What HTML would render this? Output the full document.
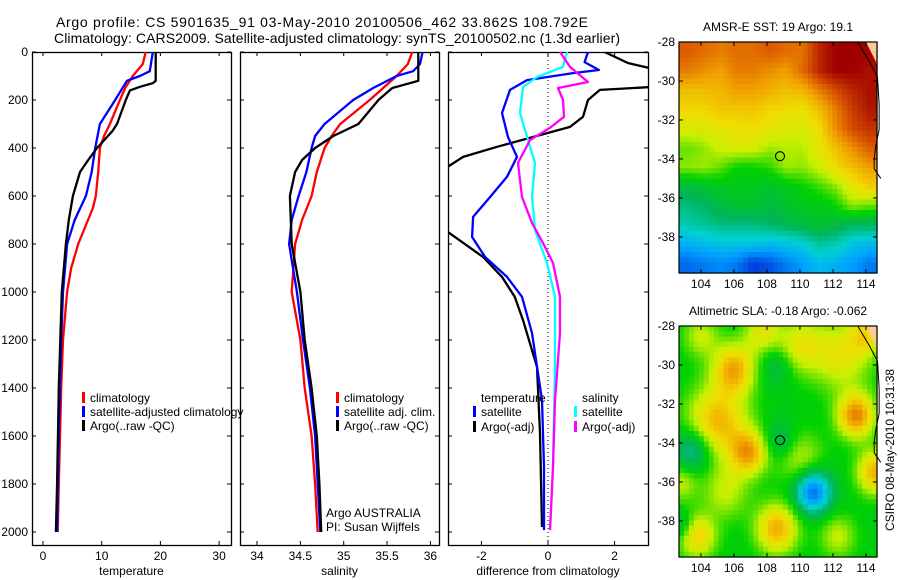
<!DOCTYPE html>
<html><head><meta charset="utf-8"><style>
html,body{margin:0;padding:0;background:#fff;}
svg{display:block;font-family:"Liberation Sans",sans-serif;}
</style></head><body>
<svg id="fig" width="900" height="580" viewBox="0 0 900 580" xmlns="http://www.w3.org/2000/svg">
<text x="56" y="27" font-size="14" textLength="532">Argo profile: CS 5901635_91 03-May-2010 20100506_462 33.862S 108.792E</text>
<text x="54" y="43" font-size="14" textLength="566">Climatology: CARS2009. Satellite-adjusted climatology: synTS_20100502.nc (1.3d earlier)</text>
</svg>
<script>
// ---------- data ----------
const tDepth = [0,50,100,150,200,300,350,400,500,600,650,800,900,1000,1200,1400,1600,1800,2000];
const tClim  = [17.5,17.0,15.3,14.0,13.1,11.4,10.4,9.7,9.4,9.0,8.5,6.0,4.8,4.1,3.4,3.1,2.9,2.7,2.5];
const tSatDepth = [0,80,100,120,200,300,400,500,600,700,800,1000,1200,1600,2000];
const tSat   = [18.7,18.2,16.5,14.3,12.3,9.7,8.9,8.3,7.3,5.4,4.1,3.4,3.1,2.7,2.4];
const tArgoDepth = [0,120,130,145,160,200,300,330,400,450,500,600,700,800,1000,1400,1800,2000];
const tArgo  = [19.2,19.2,18.7,16.5,14.8,14.1,12.6,11.8,9.2,7.7,6.3,5.1,4.4,3.9,3.2,2.7,2.4,2.2];

const sClimDepth = [0,50,100,200,300,350,400,500,600,700,800,1000,1200,1400,1600,1800,2000];
const sClim  = [35.79,35.74,35.61,35.30,34.96,34.86,34.78,34.69,34.63,34.52,34.44,34.40,34.50,34.55,34.63,34.67,34.70];
const sSatDepth = [0,50,80,100,150,200,300,350,400,500,600,700,800,1000,1200,1400,1600,1800,2000];
const sSat   = [35.91,35.88,35.80,35.61,35.34,35.11,34.78,34.67,34.63,34.57,34.48,34.40,34.37,34.46,34.53,34.61,34.67,34.70,34.73];
const sArgoDepth = [0,120,150,200,300,350,400,450,500,600,800,1000,1200,1400,1600,1800,2000];
const sArgo  = [35.86,35.86,35.56,35.40,35.17,34.88,34.67,34.52,34.44,34.38,34.40,34.50,34.55,34.63,34.69,34.72,34.74];

const dTArgoDepth = [0,46,75,146,158,200,270,312,354,395,437,504,741,854,937,1020,1117,1312,1587,1979];
const dTArgo = [1.7,2.4,3.3,3.1,1.56,1.2,1.05,0.66,-0.45,-1.53,-2.55,-3.3,-3.1,-1.95,-1.38,-1.0,-0.75,-0.33,-0.24,-0.18];
const dTSatDepth = [0,42,75,88,117,158,254,354,437,520,604,687,771,854,937,1020,1171,1450,1729,1992];
const dTSat  = [1.2,1.1,1.53,0.75,-0.63,-1.14,-1.38,-1.2,-0.93,-1.23,-1.74,-2.25,-2.28,-1.89,-1.23,-0.78,-0.48,-0.18,-0.12,-0.12];
const dSSatDepth = [0,62,104,146,254,367,462,604,741,879,1020,1312,1729,1992];
const dSSat  = [0.57,0.45,-0.33,-0.75,-0.84,-0.6,-0.39,-0.48,-0.39,-0.03,0.21,0.21,0.15,0.06];
const dSArgoDepth = [0,62,125,150,200,270,316,367,462,604,712,796,879,1020,1171,1450,1729,1992];
const dSArgo = [0.36,0.66,1.2,0.3,0.45,0.48,0.06,-0.54,-0.9,-0.78,-0.48,-0.15,0.15,0.36,0.36,0.21,0.15,0.06];

const depthTicks = [0,200,400,600,800,1000,1200,1400,1600,1800,2000];
const tempTicks = [0,10,20,30];
const salTicks = [34,34.5,35,35.5,36];
const salTickLabels = ["34","34.5","35","35.5","36"];
const diffTicks = [-2,0,2];
const lonTicks = [104,106,108,110,112,114];
const latTicks = [-28,-30,-32,-34,-36,-38];

// SST coarse grid (colour index 0..1), rows lat -28 downward, cols lon 102.67 eastward
const sstGrid = [
[.88,.86,.84,.86,.86,.88,.86,.85,.95,1,1,1],
[.84,.82,.8,.84,.84,.82,.8,.86,.95,1,1,.98],
[.76,.76,.77,.8,.8,.78,.76,.77,.84,.9,.95,.98],
[.73,.73,.75,.75,.75,.73,.72,.71,.76,.84,.92,.97],
[.68,.68,.7,.71,.72,.7,.68,.67,.72,.82,.9,.93],
[.6,.62,.66,.68,.67,.63,.64,.64,.7,.76,.82,.88],
[.62,.63,.6,.55,.55,.57,.63,.62,.66,.72,.76,.8],
[.48,.5,.52,.52,.52,.5,.52,.55,.58,.62,.7,.74],
[.42,.44,.48,.5,.5,.48,.5,.52,.52,.55,.62,.6],
[.38,.4,.42,.42,.42,.44,.46,.48,.5,.48,.45,.45],
[.28,.3,.32,.32,.32,.3,.32,.34,.4,.38,.32,.3],
[.18,.2,.22,.2,.12,.15,.2,.25,.3,.28,.25,.2]];
// SLA anomaly blobs: lon, lat, amplitude, width
const slaLon = [106,105,106.9,113.4,114.6,108.6,103.8,112.5,110,107.7,104,105.5,110,114,102.8,112.3,110.8,103.5,108.8,108.6,102.8];
const slaLat = [-30.2,-32.9,-34.5,-32.6,-35.5,-38.4,-38.8,-29.5,-29,-28.3,-28.5,-36.5,-34.8,-28.5,-36,-38.8,-36.5,-34.4,-33.9,-30,-38.2];
const slaAmp = [.25,.24,.25,.3,.25,.25,.2,.16,.15,.15,.12,.12,.12,.15,.12,.12,-.35,-.17,-.1,-.08,-.1];
const slaWid = [.9,1.3,.8,.8,.8,.9,.8,1.3,1.0,.8,.8,1.0,1.0,.7,.7,.8,.75,.8,.7,.7,.5];
const coastLon = [113.5,114.2,114.7,114.8,114.8,114.6,114.5,114.5,114.9];
const coastLat = [-28,-29,-29.8,-31.2,-32.5,-33.3,-34,-34.5,-35];

// ---------- helpers ----------
const NS="http://www.w3.org/2000/svg";
const svg=document.getElementById('fig');
function el(tag,attrs,parent){const e=document.createElementNS(NS,tag);for(const k in attrs)e.setAttribute(k,attrs[k]);(parent||svg).appendChild(e);return e;}
const Y0=52, YS=0.24;
function yD(z){return Y0+z*YS;}
const panels=[
 {name:'temperature',L:32,R:231,x:v=>43+v*5.87,ticks:tempTicks,labels:tempTicks.map(String),xlabel:'temperature'},
 {name:'salinity',L:240,R:439,x:v=>257+(v-34)*86.7,ticks:salTicks,labels:salTickLabels,xlabel:'salinity'},
 {name:'difference',L:448,R:648,x:v=>548+v*33.3,ticks:diffTicks,labels:diffTicks.map(String),xlabel:'difference from climatology'}];
const TOP=52,BOT=545;

let defs=el('defs',{});
panels.forEach((p,i)=>{
  const cp=el('clipPath',{id:'clip'+i},defs);
  el('rect',{x:p.L,y:TOP,width:p.R-p.L,height:BOT-TOP},cp);
  const g=el('g',{});
  
  
  p.g=g;
  const box=el('rect',{x:p.L+0.5,y:TOP+0.5,width:p.R-p.L,height:BOT-TOP,fill:'none',stroke:'#000','stroke-width':1.3},g);
  
  
  p.ticks.forEach((t,k)=>{
    const x=p.x(t);
    el('line',{x1:x,x2:x,y1:TOP,y2:TOP+4,stroke:'#000'},g);
    el('line',{x1:x,x2:x,y1:BOT,y2:BOT-4,stroke:'#000'},g);
    const tl=el('text',{x:x,y:BOT+15,'font-size':12,'text-anchor':'middle'},g);
    tl.textContent=p.labels[k];
    
    
  });
  depthTicks.forEach(d=>{
    const y=yD(d);
    el('line',{x1:p.L,x2:p.L+4,y1:y,y2:y,stroke:'#000'},g);
    el('line',{x1:p.R,x2:p.R-4,y1:y,y2:y,stroke:'#000'},g);
    if(i===0){
      const tl=el('text',{x:28,y:y+4,'font-size':12,'text-anchor':'end'},g);
      tl.textContent=String(d);
      
      
    }
  });
  const xl=el('text',{x:(p.L+p.R)/2,y:575,'font-size':12,'text-anchor':'middle'},g);
  xl.textContent=p.xlabel;
  
  
});

function series(p,i,depths,vals,color,name){
  const pts=depths.map((d,k)=>p.x(vals[k]).toFixed(1)+','+yD(d).toFixed(1)).join(' ');
  const pl=el('polyline',{points:pts,fill:'none',stroke:color,'stroke-width':2.3,'stroke-linejoin':'round','clip-path':'url(#clip'+i+')'},p.g);
  
  
}
const zl=el('line',{x1:panels[2].x(0),x2:panels[2].x(0),y1:TOP,y2:BOT,stroke:'#000','stroke-dasharray':'1,3'},panels[2].g);



series(panels[0],0,tDepth,tClim,'#f00','temperature-climatology-line');
series(panels[0],0,tSatDepth,tSat,'#00f','temperature-satellite-line');
series(panels[0],0,tArgoDepth,tArgo,'#000','temperature-argo-line');
series(panels[1],1,sClimDepth,sClim,'#f00','salinity-climatology-line');
series(panels[1],1,sSatDepth,sSat,'#00f','salinity-satellite-line');
series(panels[1],1,sArgoDepth,sArgo,'#000','salinity-argo-line');
series(panels[2],2,dTArgoDepth,dTArgo,'#000','temp-diff-argo-line');
series(panels[2],2,dTSatDepth,dTSat,'#00f','temp-diff-satellite-line');
series(panels[2],2,dSSatDepth,dSSat,'#0ff','sal-diff-satellite-line');
series(panels[2],2,dSArgoDepth,dSArgo,'#f0f','sal-diff-argo-line');

function legend(x,y,color,text,name){
  if(color){const m=el('rect',{x:x,y:y-10,width:3,height:11,fill:color});
    
    }
  const t=el('text',{x:x+8,y:y,'font-size':12});
  t.textContent=text;
  
  
}
legend(82,402,'#f00','climatology','legend-t-climatology');
legend(82,416,'#00f','satellite-adjusted climatology','legend-t-satellite');
legend(82,430,'#000','Argo(..raw -QC)','legend-t-argo');
legend(336,402,'#f00','climatology','legend-s-climatology');
legend(336,416,'#00f','satellite adj. clim.','legend-s-satellite');
legend(336,430,'#000','Argo(..raw -QC)','legend-s-argo');
legend(473,402,null,'temperature','legend-diff-temperature-head');
legend(473,416,'#00f','satellite','legend-diff-t-satellite');
legend(473,431,'#000','Argo(-adj)','legend-diff-t-argo');
legend(574,402,null,'salinity','legend-diff-salinity-head');
legend(574,416,'#0ff','satellite','legend-diff-s-satellite');
legend(574,431,'#f0f','Argo(-adj)','legend-diff-s-argo');
[['Argo AUSTRALIA',517,'argo-australia-label'],['PI: Susan Wijffels',531,'pi-label']].forEach(a=>{
  const t=el('text',{x:326,y:a[1],'font-size':12});t.textContent=a[0];
  
  
});

// ---------- maps ----------
const cstops=[[0,0,0,140],[.12,0,60,220],[.25,0,160,255],[.35,0,210,210],[.45,0,180,90],[.55,0,210,0],[.65,200,240,0],[.72,240,220,0],[.8,240,160,0],[.88,220,90,0],[1,160,0,0]];
function cmap(t){t=Math.max(0,Math.min(1,t));for(let k=1;k<cstops.length;k++){if(t<=cstops[k][0]){const a=cstops[k-1],b=cstops[k],f=(t-a[0])/(b[0]-a[0]);return 'rgb('+[1,2,3].map(j=>Math.round(a[j]+(b[j]-a[j])*f)).join(',')+')';}}return 'rgb(160,0,0)';}
const LON0=102.67,LON1=114.67,LAT0=-28,LAT1=-39.85;
function makeMap(top,bottom,name,title,fieldFn){
  const L=679,R=877;
  const lx=v=>L+(v-LON0)/(LON1-LON0)*(R-L);
  const ly=v=>top+(v-LAT0)/(LAT1-LAT0)*(bottom-top);
  const g=el('g',{});
  
  
  const N=40,M=44;
  for(let j=0;j<M;j++)for(let i=0;i<N;i++){
    const lon=LON0+(i+0.5)*(LON1-LON0)/N, lat=LAT0+(j+0.5)*(LAT1-LAT0)/M;
    el('rect',{x:(L+i*(R-L)/N).toFixed(2),y:(top+j*(bottom-top)/M).toFixed(2),width:((R-L)/N+0.6).toFixed(2),height:((bottom-top)/M+0.6).toFixed(2),fill:cmap(fieldFn(lon,lat))},g);
  }
  const land='M'+lx(114.0)+','+top+' L'+R+','+top+' L'+R+','+ly(-29.3)+' L'+lx(114.6)+','+ly(-29.0)+' Z';
  const ld=el('path',{d:land,fill:'rgb(255,200,150)'},g);
  
  
  const cl=el('polyline',{points:coastLon.map((v,k)=>lx(v)+','+ly(coastLat[k])).join(' '),fill:'none',stroke:'#000','stroke-width':1},g);
  
  
  const c=el('circle',{cx:lx(108.79),cy:ly(-33.86),r:4.5,fill:'none',stroke:'#000','stroke-width':1.1},g);
  
  
  el('rect',{x:L,y:top,width:R-L,height:bottom-top,fill:'none',stroke:'#000','stroke-width':1.2},g);
  lonTicks.forEach(v=>{const x=lx(v);
    el('line',{x1:x,x2:x,y1:top,y2:top+4,stroke:'#000'},g);el('line',{x1:x,x2:x,y1:bottom,y2:bottom-4,stroke:'#000'},g);
    const t=el('text',{x:x,y:bottom+15,'font-size':12,'text-anchor':'middle'},g);t.textContent=String(v);
    
    });
  latTicks.forEach(v=>{const y=ly(v);
    el('line',{x1:L,x2:L+4,y1:y,y2:y,stroke:'#000'},g);el('line',{x1:R,x2:R-4,y1:y,y2:y,stroke:'#000'},g);
    const t=el('text',{x:675,y:y+4,'font-size':12,'text-anchor':'end'},g);t.textContent=String(v);
    
    });
  const tt=el('text',{x:(L+R)/2,y:top-11,'font-size':12,'text-anchor':'middle'},g);tt.textContent=title;
  
  
}
function sstField(lon,lat){
  const fx=(lon-LON0)-0.5, fy=(LAT0-lat)/((LAT0-LAT1)/12)-0.5;
  const x0=Math.max(0,Math.min(11,Math.floor(fx))),y0=Math.max(0,Math.min(11,Math.floor(fy)));
  const x1=Math.min(11,x0+1),y1=Math.min(11,y0+1);
  const ax=Math.max(0,Math.min(1,fx-x0)),ay=Math.max(0,Math.min(1,fy-y0));
  const a=sstGrid[y0][x0]*(1-ax)+sstGrid[y0][x1]*ax, b=sstGrid[y1][x0]*(1-ax)+sstGrid[y1][x1]*ax;
  return a*(1-ay)+b*ay;
}
function slaField(lon,lat){
  let v=0.53;
  for(let k=0;k<slaLon.length;k++){const dx=lon-slaLon[k],dy=lat-slaLat[k];v+=slaAmp[k]*Math.exp(-(dx*dx+dy*dy)/(2*slaWid[k]*slaWid[k]));}
  return v;
}
makeMap(42,273,'sst-map','AMSR-E SST: 19 Argo: 19.1',sstField);
makeMap(326,557,'sla-map','Altimetric SLA: -0.18 Argo: -0.062',slaField);
const cs=el('text',{x:0,y:0,'font-size':12,'text-anchor':'middle',transform:'translate(894,450) rotate(-90)'});
cs.textContent='CSIRO 08-May-2010 10:31:38';


</script>
</body></html>
